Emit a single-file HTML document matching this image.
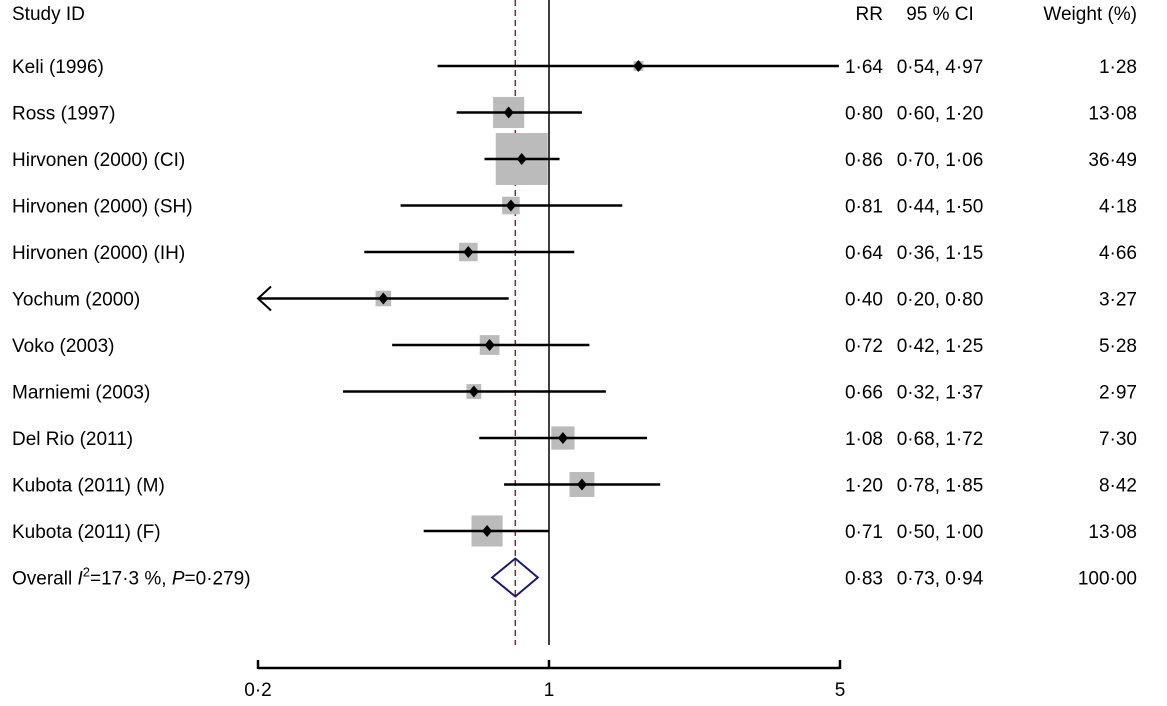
<!DOCTYPE html>
<html><head><meta charset="utf-8">
<style>
html,body{margin:0;padding:0;background:#fff;}
svg text{font-family:"Liberation Sans",Arial,sans-serif;font-size:19px;fill:#000;}
</style></head>
<body>
<svg id="chart" width="1167" height="701" viewBox="0 0 1167 701" xmlns="http://www.w3.org/2000/svg">
<g id="hdr">
<text x="12" y="20">Study ID</text>
<text x="883" y="20" text-anchor="end">RR</text>
<text x="940" y="20" text-anchor="middle">95 % CI</text>
<text x="1137" y="20" text-anchor="end">Weight (%)</text>
</g>
<g id="marks"></g>
</svg>
<script>
const studies=["Keli (1996)","Ross (1997)","Hirvonen (2000) (CI)","Hirvonen (2000) (SH)","Hirvonen (2000) (IH)","Yochum (2000)","Voko (2003)","Marniemi (2003)","Del Rio (2011)","Kubota (2011) (M)","Kubota (2011) (F)"];
const rr=[1.64,0.80,0.86,0.81,0.64,0.40,0.72,0.66,1.08,1.20,0.71];
const lo=[0.54,0.60,0.70,0.44,0.36,0.20,0.42,0.32,0.68,0.78,0.50];
const hi=[4.97,1.20,1.06,1.50,1.15,0.80,1.25,1.37,1.72,1.85,1.00];
const weights=[1.28,13.08,36.49,4.18,4.66,3.27,5.28,2.97,7.30,8.42,13.08];
const overall=[0.83,0.73,0.94];
const ticks=[0.2,1,5];
const tickLabels=["0·2","1","5"];

const NS="http://www.w3.org/2000/svg";
const g=document.getElementById('marks');
const X=v=>549+Math.log10(v)*416.3;
const Y=i=>66+i*46.5;
const f=v=>v.toFixed(2).replace('.','·');
function el(t,a,p){const e=document.createElementNS(NS,t);for(const k in a)e.setAttribute(k,a[k]);(p||g).appendChild(e);return e;}

let l=el('line',{x1:549,x2:549,y1:0,y2:645,stroke:'#000','stroke-width':1.5});


l=el('line',{x1:X(overall[0]),x2:X(overall[0]),y1:0,y2:645,stroke:'#7b2a36','stroke-width':1.5,'stroke-dasharray':'6,4'});



studies.forEach((s,i)=>{
  const y=Y(i);
  const side=8.6*Math.sqrt(weights[i]);
  let b=el('rect',{x:X(rr[i])-side/2,y:y-side/2,width:side,height:side,fill:'#bbbbbb'});
  
  
  const x1=Math.max(X(lo[i]),258), x2=Math.min(X(hi[i]),840);
  let c=el('line',{x1:x1,x2:x2,y1:y,y2:y,stroke:'#000','stroke-width':2.5});
  
  
  if(lo[i]<=0.2){
    let a=el('path',{d:`M${x1+13} ${y-12} L${x1} ${y} L${x1+13} ${y+12}`,fill:'none',stroke:'#000','stroke-width':2});
    
    
  }
  const px=X(rr[i]);
  let d=el('path',{d:`M${px} ${y-6} L${px+5} ${y} L${px} ${y+6} L${px-5} ${y} Z`,fill:'#000'});
  
  
  let t=el('text',{x:12,y:y+7});t.textContent=s;
  
  
  t=el('text',{x:883,y:y+7,'text-anchor':'end'});t.textContent=f(rr[i]);
  
  
  t=el('text',{x:940,y:y+7,'text-anchor':'middle'});t.textContent=f(lo[i])+', '+f(hi[i]);
  
  
  t=el('text',{x:1137,y:y+7,'text-anchor':'end'});t.textContent=f(weights[i]);
  
  
});
const oy=Y(studies.length);
let dm=el('path',{d:`M${X(overall[1])} ${oy} L${X(overall[0])} ${oy-19} L${X(overall[2])} ${oy} L${X(overall[0])} ${oy+19} Z`,fill:'none',stroke:'#1a1a6e','stroke-width':2});


let ot=el('text',{x:12,y:oy+7});
ot.innerHTML='Overall <tspan font-style="italic">I</tspan><tspan dy="-8" font-size="13">2</tspan><tspan dy="8">=17·3 %, </tspan><tspan font-style="italic">P</tspan>=0·279)';


[[883,'end',f(overall[0])],[940,'middle',f(overall[1])+', '+f(overall[2])],[1137,'end','100·00']].forEach(([x,a,s])=>{
  const t=el('text',{x:x,y:oy+7,'text-anchor':a});t.textContent=s;
  
  
});
let ax=el('line',{x1:X(ticks[0]),x2:X(ticks[ticks.length-1]),y1:668,y2:668,stroke:'#000','stroke-width':2.5});


ticks.forEach((v,i)=>{
  const tk=el('line',{x1:X(v),x2:X(v),y1:660,y2:669,stroke:'#000','stroke-width':2.5});
  
  
  const t=el('text',{x:X(v),y:696,'text-anchor':'middle'});t.textContent=tickLabels[i];
  
  
});
</script>
</body></html>
